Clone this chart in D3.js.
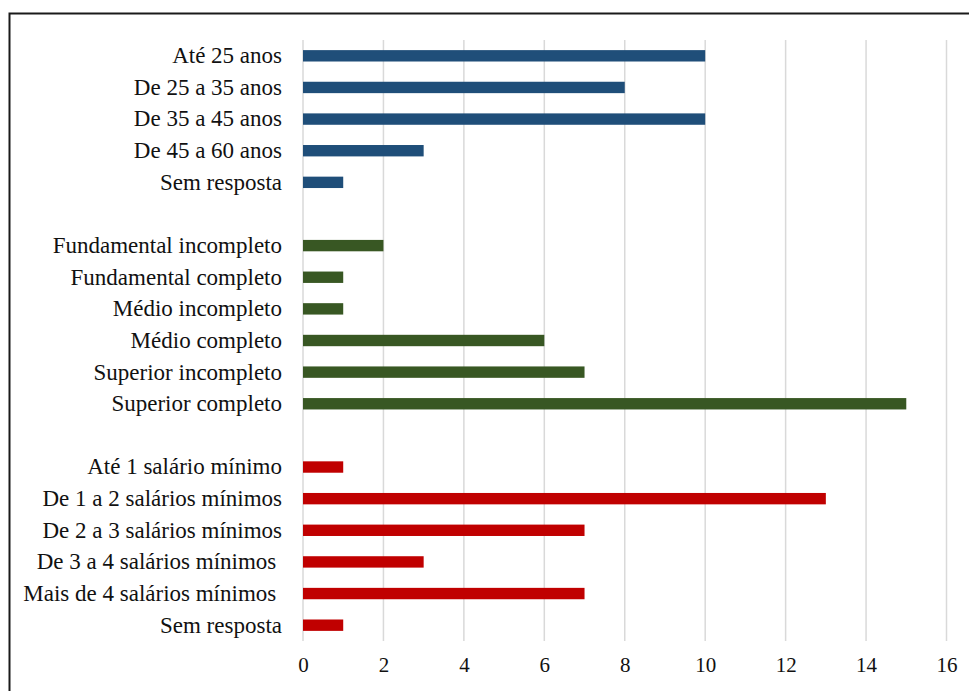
<!DOCTYPE html>
<html><head><meta charset="utf-8">
<script src="https://cdn.jsdelivr.net/npm/d3@7"></script>
<style>html,body{margin:0;padding:0;background:#fff;}svg{display:block;}</style>
</head><body>
<script>
const ageLabels = ["Até 25 anos","De 25 a 35 anos","De 35 a 45 anos","De 45 a 60 anos","Sem resposta"];
const ageValues = [10, 8, 10, 3, 1];
const eduLabels = ["Fundamental incompleto","Fundamental completo","Médio incompleto","Médio completo","Superior incompleto","Superior completo"];
const eduValues = [2, 1, 1, 6, 7, 15];
const incLabels = ["Até 1 salário mínimo","De 1 a 2 salários mínimos","De 2 a 3 salários mínimos","De 3 a 4 salários mínimos ","Mais de 4 salários mínimos ","Sem resposta"];
const incValues = [1, 13, 7, 3, 7, 1];
const xTicks = [0, 2, 4, 6, 8, 10, 12, 14, 16];
const groupColors = ["#1F4E79", "#385723", "#C00000"];

const W = 969, H = 691;
const svg = d3.select("body").append("svg").attr("width", W).attr("height", H);

// build rows (with blank gap slots between groups)
const rows = [];
[[ageLabels, ageValues], [eduLabels, eduValues], [incLabels, incValues]].forEach(([labs, vals], g) => {
  if (g > 0) rows.push({key: "gap" + g, label: "", value: null, group: g});
  labs.forEach((l, i) => rows.push({key: g + "-" + i, label: l, value: vals[i], group: g}));
});

const x = d3.scaleLinear().domain([0, 16]).range([303, 946.5]);
const y = d3.scaleBand().domain(rows.map(r => r.key)).range([40, 641]).paddingInner(0.64).paddingOuter(0.32);

// border
svg.append("rect").attr("x", 9.5).attr("y", 13.5).attr("width", W + 10).attr("height", H + 10)
  .attr("fill", "none").attr("stroke", "#1a1a1a").attr("stroke-width", 2);

// gridlines
svg.append("g").selectAll("line").data(xTicks).join("line")
  .attr("x1", d => x(d)).attr("x2", d => x(d)).attr("y1", 40).attr("y2", 641)
  .attr("stroke", "#d9d9d9").attr("stroke-width", 1.5);

// x axis
const xAxis = svg.append("g").attr("transform", "translate(0,641)")
  .call(d3.axisBottom(x).tickValues(xTicks).tickSize(0).tickPadding(16).tickFormat(d3.format("d")));
xAxis.select(".domain").remove();
xAxis.selectAll("text").attr("font-family", "'Liberation Serif','Times New Roman',serif")
  .attr("font-size", 21).attr("fill", "#111");

// bars
const data = rows.filter(r => r.value !== null);
svg.append("g").selectAll("rect").data(data).join("rect")
  .attr("x", x(0)).attr("y", d => y(d.key))
  .attr("width", d => x(d.value) - x(0)).attr("height", y.bandwidth())
  .attr("fill", d => groupColors[d.group]);

// y axis labels
const yAxis = svg.append("g").attr("transform", "translate(" + x(0) + ",0)")
  .call(d3.axisLeft(y).tickSize(0).tickPadding(21).tickFormat(k => rows.find(r => r.key === k).label));
yAxis.select(".domain").remove();
yAxis.selectAll("text").attr("font-family", "'Liberation Serif','Times New Roman',serif")
  .attr("font-size", 23).attr("fill", "#111").style("white-space", "pre").attr("xml:space", "preserve");
</script>
</body></html>
